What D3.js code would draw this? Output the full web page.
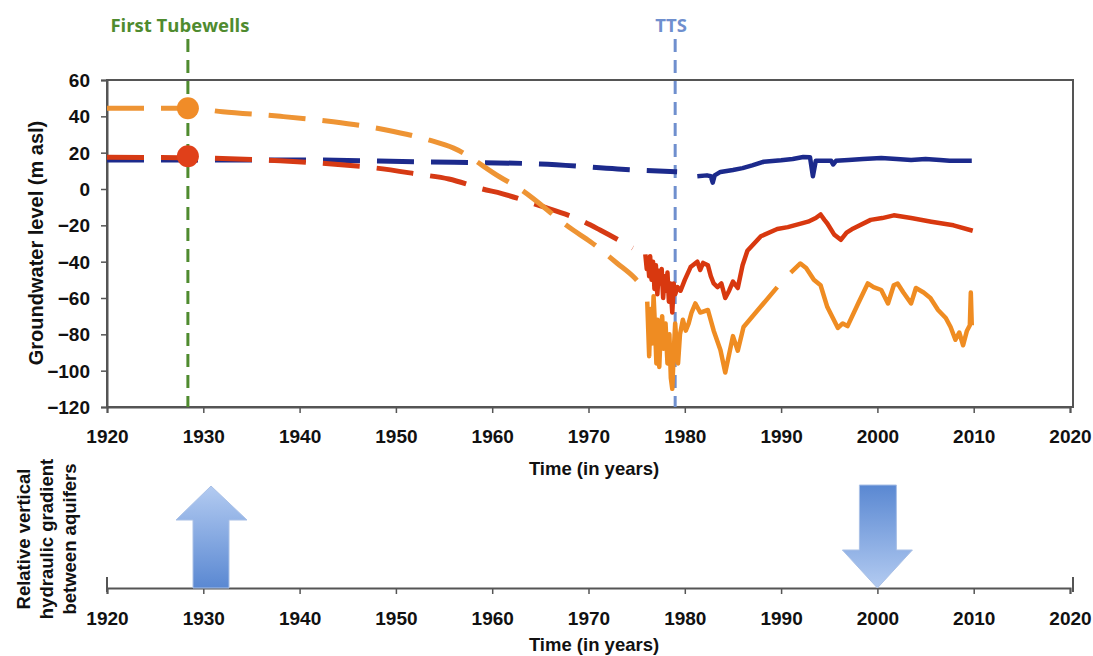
<!DOCTYPE html>
<html>
<head>
<meta charset="utf-8">
<script src="https://cdn.jsdelivr.net/npm/d3@7"></script>
<style>
    body { margin: 0; background: #fff; }
    svg { display: block; font-family: "Liberation Sans", Arial, sans-serif; }
</style>
</head>
<body>
<div id="chart"></div>
<script>

// ---- data ----
const yearTicks = [1920, 1930, 1940, 1950, 1960, 1970, 1980, 1990, 2000, 2010, 2020];
const levelTicks = [-120, -100, -80, -60, -40, -20, 0, 20, 40, 60];

// dashed (reconstructed) pre-record trends
const blueDashed = [[1920, 16], [1940, 16], [1952, 15], [1965, 13.8], [1973, 11], [1979.2, 9.5]];
const redDashed = [[1920, 17.5], [1930, 17], [1938, 15.5], [1944, 13.5], [1948, 11.5], [1952.5, 8],
    [1955.5, 5.5], [1959, 0], [1961, -2.5], [1964.7, -8.8], [1969.5, -18], [1971.2, -22.6], [1974.6, -32.5]];
const orangeDashed = [[1920, 44.5], [1928.4, 44.5], [1932, 42.5], [1938, 40], [1943.5, 37], [1949, 32.5],
    [1953.4, 27], [1956, 22.5], [1960.8, 6.6], [1962.6, 1], [1968.4, -22.6], [1970.2, -29], [1973, -41],
    [1974.7, -48.5], [1976.1, -57]];

// measured records
const blueSolid = [[1981.3, 7], [1982.3, 7.5], [1982.7, 7], [1982.9, 3.5], [1983.1, 7.5], [1983.7, 9.4],
    [1985, 10.5], [1986, 11.5], [1987, 13], [1988.2, 15], [1990, 15.8], [1991.2, 16.5], [1992.3, 17.6],
    [1993.0, 17.5], [1993.3, 7], [1993.6, 15.5], [1994.5, 15.5], [1995.2, 15.5], [1995.4, 13.5],
    [1995.7, 15.5], [1997, 16], [1998.5, 16.5], [2000.4, 17], [2002, 16.5], [2003.5, 16], [2005, 16.5],
    [2006.5, 16], [2007.5, 15.5], [2009, 15.5], [2009.8, 15.5]];

const redSolid = [[1975.9, -36], [1976.05, -44], [1976.15, -38], [1976.3, -48], [1976.4, -37],
    [1976.55, -50], [1976.7, -40], [1976.85, -55], [1977.0, -42], [1977.15, -58], [1977.3, -45],
    [1977.45, -52], [1977.6, -44], [1977.75, -60], [1977.9, -48], [1978.05, -56], [1978.2, -46],
    [1978.35, -62], [1978.5, -52], [1978.7, -68], [1978.85, -52], [1979.0, -58], [1979.25, -54],
    [1979.56, -56], [1980.0, -50], [1980.6, -43],
    [1981.3, -40], [1981.6, -44.6], [1981.9, -40.7], [1982.4, -42], [1982.7, -48], [1983.0, -52],
    [1983.4, -54], [1983.8, -52], [1984.2, -60], [1984.6, -56], [1985.0, -51], [1985.5, -54.5],
    [1986.0, -42], [1986.5, -34], [1987.9, -26], [1989.6, -22], [1990.7, -21], [1992.8, -18],
    [1993.6, -16], [1994.1, -14], [1994.5, -17], [1994.8, -19], [1995.5, -25], [1996.2, -28],
    [1996.8, -24], [1997.5, -21.7], [1999.3, -17], [2000.5, -16], [2001.7, -14.5], [2003.5, -16],
    [2005.6, -18], [2007.9, -20], [2009.9, -23]];

const orangeSolidA = [[1976.1, -62], [1976.3, -92], [1976.45, -66], [1976.6, -85], [1976.76, -59],
    [1976.9, -75], [1977.05, -96], [1977.17, -72], [1977.35, -98], [1977.5, -78], [1977.65, -70],
    [1977.8, -88], [1978.0, -74], [1978.2, -96], [1978.4, -80], [1978.55, -104], [1978.7, -110],
    [1978.85, -90], [1979.0, -74], [1979.15, -86], [1979.3, -96], [1979.5, -80], [1979.8, -72],
    [1980.1, -78], [1980.4, -74], [1980.7, -68], [1981.1, -63], [1981.6, -68], [1982.4, -66.6],
    [1983.0, -78], [1983.7, -88.6], [1984.2, -101], [1985.0, -81], [1985.5, -89], [1986.1, -76],
    [1989.6, -54]];
const orangeSolidB = [[1991.0, -46], [1992.0, -41], [1992.6, -43.5], [1993.4, -50], [1994.1, -53],
    [1994.8, -65], [1995.9, -76.5], [1996.4, -74], [1996.9, -75.5], [1998.0, -63], [1999.0, -52],
    [1999.6, -54], [2000.4, -55.6], [2001.1, -63], [2001.7, -53], [2002.1, -52], [2002.7, -57],
    [2003.5, -63], [2004.0, -54.5], [2004.8, -57], [2005.5, -60], [2006.3, -66.6], [2007.1, -71],
    [2007.6, -76], [2008.1, -83], [2008.5, -79], [2008.9, -86], [2009.3, -78], [2009.6, -75],
    [2009.7, -57], [2009.8, -75]];

const markers = [[1928.4, 44.5, "#f08c28"], [1928.4, 18, "#e0401a"]];
const events = [[1928.4, "First Tubewells", "#4f8b2f", -8], [1979.0, "TTS", "#6f8fce", -4]];
// gradient arrows in the lower panel: year, direction
const arrows = [[1930.8, "up"], [2000.0, "down"]];

// ---- layout ----
const width = 1093;
const height = 656;
const plotTop = 80, plotBottom = 407, plotLeft = 107, plotRight = 1070;
const lowAxisY = 588;
const axisColor = `#555`;
const tickFont = `bold 19px "Liberation Sans", Arial, sans-serif`;
const titleFont = `bold 18.5px "Liberation Sans", Arial, sans-serif`;

const xScale = d3.scaleLinear().domain([1920, 2020]).range([plotLeft, plotRight]);
const yScale = d3.scaleLinear().domain([-120, 60]).range([plotBottom, plotTop]);

const svg = d3.select('#chart')
    .append('svg')
    .attr('width', width)
    .attr('height', height);

const defs = svg.append('defs');
const gradUp = defs.append('linearGradient').attr('id', 'gradUp')
    .attr('x1', 0).attr('y1', 0).attr('x2', 0).attr('y2', 1);
gradUp.append('stop').attr('offset', '0%').attr('stop-color', '#b3cbf1');
gradUp.append('stop').attr('offset', '100%').attr('stop-color', '#5a88d2');
const gradDown = defs.append('linearGradient').attr('id', 'gradDown')
    .attr('x1', 0).attr('y1', 0).attr('x2', 0).attr('y2', 1);
gradDown.append('stop').attr('offset', '0%').attr('stop-color', '#5a88d2');
gradDown.append('stop').attr('offset', '100%').attr('stop-color', '#b3cbf1');

// frame
svg.append('rect')
    .attr('x', plotLeft).attr('y', plotTop)
    .attr('width', xScale(2020) - plotLeft + 3).attr('height', plotBottom - plotTop)
    .attr('fill', 'none')
    .attr('stroke', axisColor)
    .attr('stroke-width', 2);

// axes of top panel
const xAxis = svg.append('g')
    .attr('transform', `translate(0,${plotBottom})`)
    .call(d3.axisBottom(xScale).tickValues(yearTicks).tickFormat(d3.format('d')).tickSize(6).tickPadding(17));
const yAxis = svg.append('g')
    .attr('transform', `translate(${plotLeft},0)`)
    .call(d3.axisLeft(yScale).tickValues(levelTicks).tickSize(6).tickPadding(11));

[xAxis, yAxis].forEach(ax => {
    ax.select('.domain').attr('stroke', axisColor).attr('stroke-width', 2);
    ax.selectAll('.tick line').attr('stroke', axisColor).attr('stroke-width', 1.5);
    ax.selectAll('.tick text').style('font', tickFont).attr('fill', '#111');
});
yAxis.selectAll('.tick text').attr('dy', '0.35em');

svg.append('text')
    .attr('x', 594).attr('y', 475)
    .attr('text-anchor', 'middle')
    .style('font', titleFont)
    .attr('fill', '#111')
    .text('Time (in years)');

svg.append('text')
    .attr('transform', `translate(43,243) rotate(-90)`)
    .attr('text-anchor', 'middle')
    .style('font', `bold 20px "Liberation Sans", Arial, sans-serif`)
    .attr('fill', '#111')
    .text('Groundwater level (m asl)');

// event lines
events.forEach(([yr, label, color, shift]) => {
    svg.append('line')
        .attr('x1', xScale(yr)).attr('x2', xScale(yr))
        .attr('y1', 39).attr('y2', plotBottom)
        .attr('stroke', color)
        .attr('stroke-width', 3)
        .attr('stroke-dasharray', '13,8');
    svg.append('text')
        .attr('x', xScale(yr) + shift).attr('y', 32)
        .attr('text-anchor', 'middle')
        .style('font', `bold 18.5px "Open Sans", Lato, sans-serif`)
        .attr('fill', color)
        .text(label);
});

// series
const smooth = d3.line().x(d => xScale(d[0])).y(d => yScale(d[1])).curve(d3.curveMonotoneX);
const plain = d3.line().x(d => xScale(d[0])).y(d => yScale(d[1]));

const drawDashed = (data, color) => svg.append('path')
    .attr('d', smooth(data))
    .attr('fill', 'none')
    .attr('stroke', color)
    .attr('stroke-width', 5)
    .attr('stroke-dasharray', '37,17');
const drawSolid = (data, color) => svg.append('path')
    .attr('d', plain(data))
    .attr('fill', 'none')
    .attr('stroke', color)
    .attr('stroke-width', 4.5)
    .attr('stroke-linejoin', 'round');

drawDashed(blueDashed, '#1c2a8c');
drawSolid(blueSolid, '#1c2a8c');
drawDashed(redDashed, '#d63a14');
drawDashed(orangeDashed, '#ee9434');
drawSolid(orangeSolidA, '#ef8c22');
drawSolid(orangeSolidB, '#ef8c22');
drawSolid(redSolid, '#d8380f');

svg.selectAll('.marker')
    .data(markers)
    .join('circle')
    .attr('class', 'marker')
    .attr('cx', d => xScale(d[0]))
    .attr('cy', d => yScale(d[1]))
    .attr('r', 11)
    .attr('fill', d => d[2]);

// lower panel: relative vertical gradient
const lowAxis = svg.append('g')
    .attr('transform', `translate(0,${lowAxisY})`)
    .call(d3.axisBottom(xScale).tickValues(yearTicks).tickFormat(d3.format('d')).tickSize(6).tickPadding(18));
lowAxis.select('.domain').attr('stroke', axisColor).attr('stroke-width', 2);
lowAxis.selectAll('.tick line').attr('stroke', axisColor).attr('stroke-width', 1.5);
lowAxis.selectAll('.tick text').style('font', tickFont).attr('fill', '#111');
[1920, 2020].forEach(yr => lowAxis.append('line')
    .attr('x1', xScale(yr) + (yr === 2020 ? 3 : 0)).attr('x2', xScale(yr) + (yr === 2020 ? 3 : 0))
    .attr('y1', -11).attr('y2', 4)
    .attr('stroke', axisColor).attr('stroke-width', 2));

arrows.forEach(([yr, dir]) => {
    const cx = xScale(yr);
    let pts;
    if (dir === 'up') {
        pts = [[cx, 486], [cx + 36, 520], [cx + 18, 520], [cx + 18, lowAxisY], [cx - 18, lowAxisY],
            [cx - 18, 520], [cx - 35, 520]];
    } else {
        pts = [[cx - 18, 485], [cx + 19, 485], [cx + 19, 550], [cx + 35, 550], [cx, lowAxisY],
            [cx - 35, 550], [cx - 18, 550]];
    }
    svg.append('path')
        .attr('d', d3.line()(pts) + 'Z')
        .attr('fill', dir === 'up' ? 'url(#gradUp)' : 'url(#gradDown)')
        .attr('stroke', '#a9c0e6')
        .attr('stroke-width', 1);
});

svg.append('text')
    .attr('x', 594).attr('y', 651)
    .attr('text-anchor', 'middle')
    .style('font', titleFont)
    .attr('fill', '#111')
    .text('Time (in years)');

const sideLines = ['Relative vertical', 'hydraulic gradient', 'between aquifers'];
sideLines.forEach((t, i) => {
    svg.append('text')
        .attr('transform', `translate(${30 + i * 23},539) rotate(-90)`)
        .attr('text-anchor', 'middle')
        .style('font', titleFont)
        .attr('fill', '#111')
        .text(t);
});

</script>
</body>
</html>
